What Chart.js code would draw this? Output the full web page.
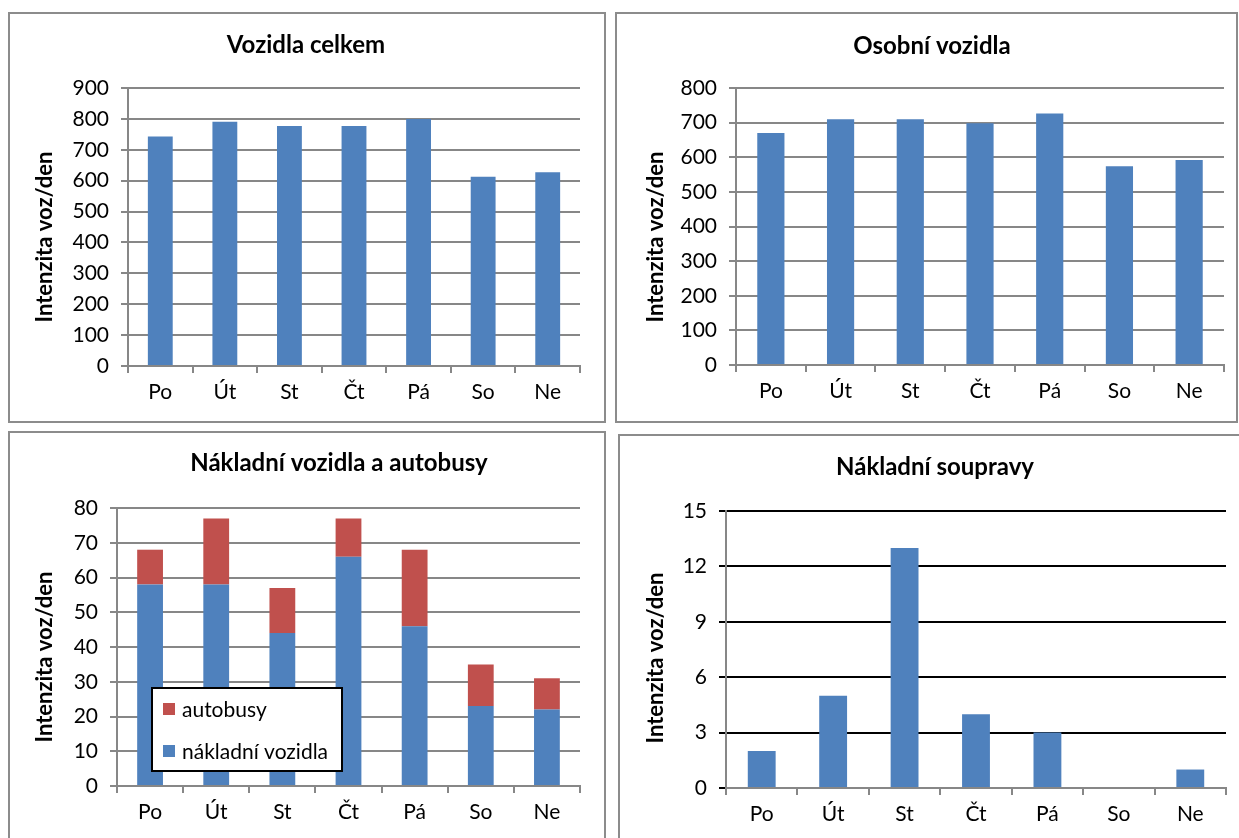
<!DOCTYPE html>
<html><head><meta charset="utf-8">
<script src="https://cdn.jsdelivr.net/npm/chart.js@4"></script>
<style>
body{margin:0;background:#fff;width:1239px;height:838px;overflow:hidden;position:relative;}
.panel{position:absolute;border:2px solid #8c8c8c;box-sizing:border-box;background:#fff;}
.panel canvas{display:block;}
</style></head><body>
<div class="panel" style="left:8px;top:12px;width:598px;height:411px"><canvas id="c1" width="594" height="407"></canvas></div>
<div class="panel" style="left:615px;top:12px;width:623px;height:411px"><canvas id="c2" width="619" height="407"></canvas></div>
<div class="panel" style="left:8px;top:431px;width:598px;height:420px"><canvas id="c3" width="594" height="416"></canvas></div>
<div class="panel" style="left:618px;top:434px;width:630px;height:420px"><canvas id="c4" width="626" height="416"></canvas></div>
<script>
const days = ['Po', 'Út', 'St', 'Čt', 'Pá', 'So', 'Ne'];
const vozidlaCelkem = [743, 791, 777, 777, 800, 613, 627];
const osobniVozidla = [670, 710, 710, 698, 726, 574, 592];
const nakladniVozidla = [58, 58, 44, 66, 46, 23, 22];
const autobusy = [10, 19, 13, 11, 22, 12, 9];
const nakladniSoupravy = [2, 5, 13, 4, 3, 0, 1];
const titles = ['Vozidla celkem', 'Osobní vozidla', 'Nákladní vozidla a autobusy', 'Nákladní soupravy'];
const yTitle = 'Intenzita voz/den';
const yMax = [900, 800, 80, 15];
const yStep = [100, 100, 10, 3];

const BLUE = '#4F81BD', RED = '#C0504D', GRAY = '#878787';
const FONT = 'Lato';

const panelTitle = {
  id: 'panelTitle',
  afterDraw(chart, args, opts) {
    const ctx = chart.ctx;
    ctx.save();
    ctx.font = 'bold 24px ' + FONT;
    ctx.fillStyle = '#000';
    ctx.textAlign = 'center';
    ctx.textBaseline = 'middle';
    ctx.fillText(opts.text, opts.x, opts.y);
    ctx.translate(opts.ax, opts.ay);
    ctx.rotate(-Math.PI / 2);
    ctx.font = 'bold 22px ' + FONT;
    ctx.fillText(opts.axisText, 0, 0);
    ctx.restore();
  }
};

const boxLegend = {
  id: 'boxLegend',
  afterDraw(chart, args, opts) {
    if (!opts.show) return;
    const ctx = chart.ctx;
    ctx.save();
    ctx.fillStyle = '#fff';
    ctx.fillRect(opts.x, opts.y, opts.w, opts.h);
    ctx.strokeStyle = '#000';
    ctx.lineWidth = 2;
    ctx.strokeRect(opts.x, opts.y, opts.w, opts.h);
    const items = chart.data.datasets.slice().reverse();
    ctx.font = '21px ' + FONT;
    ctx.textBaseline = 'middle';
    ctx.textAlign = 'left';
    items.forEach((ds, i) => {
      const cy = opts.y + opts.firstY + i * opts.gap;
      ctx.fillStyle = ds.backgroundColor;
      ctx.fillRect(opts.x + 11, cy - 6, 12, 12);
      ctx.fillStyle = '#000';
      ctx.fillText(ds.label, opts.x + 30, cy + 1);
    });
    ctx.restore();
  }
};

function makeChart(id, idx, datasets, cfg) {
  const stacked = datasets.length > 1;
  return new Chart(document.getElementById(id), {
    type: 'bar',
    data: { labels: days, datasets },
    plugins: [panelTitle, boxLegend],
    options: {
      responsive: false,
      animation: false,
      events: [],
      layout: { padding: cfg.pad },
      datasets: { bar: { categoryPercentage: 1, barPercentage: cfg.barPct } },
      plugins: {
        legend: { display: false },
        tooltip: { enabled: false },
        title: { display: false },
        panelTitle: { text: titles[idx], x: cfg.tx, y: cfg.ty, axisText: yTitle, ax: cfg.ax, ay: cfg.ay },
        boxLegend: cfg.legend || { show: false }
      },
      scales: {
        x: {
          stacked,
          grid: { display: true, drawOnChartArea: false, drawTicks: true, tickLength: 7, color: GRAY, lineWidth: 2, offset: true },
          border: { color: GRAY, width: 2 },
          ticks: { font: { family: FONT, size: 21 }, color: '#000', padding: 7 },
          afterFit(s) { s.height = cfg.xh; }
        },
        y: {
          stacked,
          min: 0, max: yMax[idx],
          ticks: { stepSize: yStep[idx], font: { family: FONT, size: 21 }, color: '#000', padding: 12 },
          grid: { color: cfg.gridColor || GRAY, lineWidth: 2, tickLength: 7, drawTicks: true },
          border: { color: GRAY, width: 2 },
          title: { display: false },
          afterFit(s) { s.width = cfg.yw; }
        }
      }
    }
  });
}

makeChart('c1', 0, [
  { label: 'Vozidla celkem', data: vozidlaCelkem, backgroundColor: BLUE }
], { pad: { left: 25, right: 24, top: 74, bottom: 0 }, yw: 93, xh: 55, barPct: 0.385, tx: 296, ty: 31, ax: 35, ay: 223 });

makeChart('c2', 1, [
  { label: 'Osobní vozidla', data: osobniVozidla, backgroundColor: BLUE }
], { pad: { left: 29, right: 12, top: 74, bottom: 0 }, yw: 90, xh: 56, barPct: 0.39, tx: 315, ty: 32, ax: 39, ay: 223 });

makeChart('c3', 2, [
  { label: 'nákladní vozidla', data: nakladniVozidla, backgroundColor: BLUE },
  { label: 'autobusy', data: autobusy, backgroundColor: RED }
], { pad: { left: 25, right: 24, top: 75, bottom: 8 }, yw: 82, xh: 55, barPct: 0.39, tx: 329, ty: 30, ax: 35, ay: 224,
     legend: { show: true, x: 142, y: 255, w: 190, h: 83, firstY: 21, gap: 42 } });

makeChart('c4', 3, [
  { label: 'Nákladní soupravy', data: nakladniSoupravy, backgroundColor: BLUE }
], { pad: { left: 26, right: 20, top: 75, bottom: 9 }, yw: 80, xh: 55, barPct: 0.39, tx: 315, ty: 31, ax: 36, ay: 222, gridColor: '#000' });
</script>
</body></html>
